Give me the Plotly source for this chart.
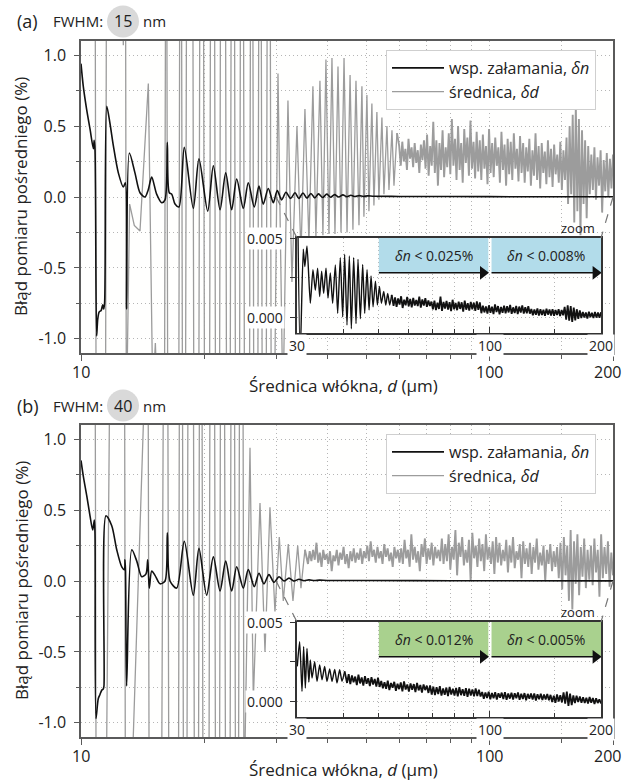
import numpy as np
import plotly.graph_objects as go

W, H = 623, 783
FONT = "Open Sans"
INK = "#222222"
BLACK = "#111111"
GREY = "#9c9c9c"
GRID = "#b5b5b5"
FRAME = "#5a5a5a"

# ======================= panel (a): FWHM 15 nm =======================
# refractive-index error, delta n (%)
dn_a_d = [10.0, 10.13, 10.32, 10.52, 10.72, 10.77, 10.82, 10.92, 10.99, 11.08, 11.2, 11.30, 11.36, 11.42,
          11.56, 11.77, 12.0, 12.34, 12.69, 12.84, 12.93, 13.13, 13.55, 13.94, 14.34, 14.6, 14.89, 15.31,
          15.75, 16.05, 16.26, 16.44, 16.67, 16.98, 17.36, 17.89, 18.82, 19.43, 20.41, 21.07, 21.88, 22.59,
          23.36, 24.03, 24.94, 25.65, 26.53, 27.24, 27.91, 28.71, 29.53, 30.20, 30.95, 31.71, 32.56, 33.37,
          34.1, 34.9, 35.7, 36.5, 37.3, 38.1, 39.0, 39.9, 40.8, 41.7, 42.7, 43.7, 44.7, 45.7, 46.8, 47.9,
          49.0, 50.2, 52.0, 60.0, 80.0, 120.0, 200.0]
dn_a = [0.94, 0.78, 0.62, 0.48, 0.34, 0.40, 0.33, -0.98, -0.86, -0.81, -0.80, -0.76, -0.79, -0.75,
        0.64, 0.52, 0.36, 0.17, 0.07, 0.10, -0.79, 0.31, 0.17, 0.03, 0.00, 0.05, 0.14, 0.02,
        -0.04, -0.02, 0.385, 0.03, 0.02, -0.05, -0.07, 0.35, -0.08, 0.27, -0.10, 0.22, -0.09, 0.17,
        -0.09, 0.127, -0.08, 0.10, -0.07, 0.077, -0.05, 0.06, -0.04, 0.045, -0.02, 0.033, -0.01, 0.03,
        -0.01, 0.028, -0.008, 0.025, -0.006, 0.022, -0.004, 0.02, -0.002, 0.017, 0.0, 0.015, 0.002, 0.012, 0.003, 0.01,
        0.004, 0.008, 0.005, 0.004, 0.003, 0.002, 0.002]

# diameter error, delta d (%); +-1.6 marks excursions beyond the plotted range
dd_a_d = [10.0, 10.83, 10.89, 11.48, 11.54, 12.62, 12.69, 12.75, 12.85, 12.91,
          13.15, 13.5, 13.94, 14.3, 14.61, 14.98, 15.2, 15.45,
          16.00, 16.10, 16.21, 16.30, 17.34, 17.44, 17.61, 17.71, 18.01, 18.12, 18.77, 18.88,
          19.41, 19.53, 19.93, 20.05, 20.62, 20.74, 21.21, 21.33, 21.81, 21.94, 22.56, 22.70,
          23.16, 23.30, 23.73, 23.87, 24.41, 24.55, 24.96, 25.11, 25.82, 25.98, 26.31, 26.46,
          27.06, 27.22, 27.58, 27.75, 28.37, 28.54, 29.02, 29.19, 29.7,
          30.32, 31.18, 32.07, 32.80, 33.74, 34.51, 35.29, 36.09, 36.91, 37.54, 38.40, 39.05, 39.72,
          40.40, 41.09, 41.79, 42.51, 43.24, 43.98, 44.73, 45.50, 46.24, 47.04, 47.84, 48.64, 49.19,
          50.03, 50.60, 51.45, 52.04, 52.92, 53.52, 54.44, 55.06, 56.00, 56.64, 57.61, 58.26, 59.25]
dd_a = [1.6, 1.6, -1.6, -1.6, 1.6, 1.6, 1.07, 1.6, 1.6, -1.6,
        -0.05, -0.2, -0.24, 0.3, 0.80, -1.4, -1.03, -1.6,
        -1.6, 1.6, 1.6, -1.6, -1.6, 1.6, 1.6, -1.6, -1.6, 1.6, 1.6, -1.6,
        -1.6, 1.6, 1.6, -1.6, -1.6, 1.6, 1.6, -1.6, -1.6, 1.6, 1.6, -1.6,
        -1.6, 1.6, 1.6, -1.6, -1.6, 1.6, 1.6, -1.6, -1.6, 1.6, 1.6, -1.6,
        -1.6, 1.6, 1.6, -1.6, -1.6, 1.6, 1.6, -1.6, -1.6,
        0.87, -1.5, 0.68, -0.6, 0.50, -0.4, 0.62, -0.32, 0.78, -0.28, 0.82, -0.27, 0.97,
        -0.26, 0.98, -0.26, 0.92, -0.25, 0.98, -0.25, 0.86, -0.23, 0.82, -0.2, 0.78, -0.14,
        0.72, -0.1, 0.66, -0.06, 0.6, -0.02, 0.56, 0.02, 0.5, 0.05, 0.47, 0.08, 0.45]
# dense part of delta d, read at even log steps from 60 to 200 um
dd_a_dense_from = 60.0
dd_a_dense = [0.36, 0.22, 0.39, 0.25, 0.34, 0.19, 0.41, 0.27, 0.35, 0.21, 0.38, 0.24, 0.33, 0.17, 0.37, 0.26, 0.40,
              0.20, 0.44, 0.15, 0.36, 0.22, 0.53, 0.17, 0.40, 0.08, 0.38, 0.19, 0.47, 0.14, 0.35, 0.21,
              0.45, 0.16, 0.55, 0.22, 0.41, 0.12, 0.50, 0.19, 0.38, 0.10, 0.48, 0.24, 0.42, 0.15, 0.54, 0.20, 0.39, 0.13, 0.46,
              0.18, 0.40, 0.12, 0.44, 0.20, 0.36, 0.09, 0.48, 0.17, 0.38, 0.14, 0.42, 0.22, 0.35, 0.10, 0.46, 0.19, 0.37,
              0.08, 0.41, 0.16, 0.39, 0.12, 0.45, 0.20, 0.34, 0.11, 0.43, 0.17, 0.38,
              0.10, 0.35, 0.18, 0.41, 0.08, 0.33, 0.15, 0.45, 0.12, 0.36, 0.06, 0.38, 0.17, 0.32, 0.09, 0.40, 0.14, 0.34,
              0.07, 0.37, 0.16, 0.30, 0.10, 0.39, 0.05, 0.33,
              0.12, 0.42, -0.05, 0.50, 0.02, 0.58, -0.18, 0.64, -0.10, 0.55, -0.27, 0.47, -0.05, 0.40, -0.15, 0.36, 0.02,
              0.30, 0.05, 0.35, -0.02, 0.28, 0.08, 0.33, -0.11, 0.26, 0.04, 0.31, 0.00, 0.27, 0.06, 0.30]

# zoomed delta n, 30-200 um (units of 0.001 %)
zn_a_d = [30.05, 30.6, 31.2, 31.5, 31.93, 32.60, 33.14, 33.63, 34.12, 34.56, 34.99, 35.43, 35.95, 36.40,
          36.93, 37.47, 38.11, 38.67, 39.31, 39.90, 40.39, 40.98, 41.59, 42.11, 42.73, 43.36, 43.90, 44.55,
          45.20, 45.77, 46.45, 47.04, 47.63, 48.23, 48.94, 49.55, 50.18, 50.80, 51.55, 52.19, 52.84, 53.50, 54.17]
zn_a = [9.0, -2.5, 4.3, 3.2, 4.5, 0.88, 3.0, 1.7, 3.1, 1.3, 2.9, 1.5, 3.1, 1.2,
        2.8, 0.88, 3.3, 0.24, 3.76, 0.02, 3.97, -0.5, 3.86, -0.73, 3.76, -0.41, 3.65, -0.1,
        3.33, 0.24, 3.0, 0.45, 2.6, 0.66, 2.27, 0.77, 1.94, 0.88, 1.62, 0.77, 1.5, 0.77, 1.41]
zn_a_dense_from = 54.8
zn_a_dense = [0.72, 1.25, 0.65, 1.18, 0.80, 1.32, 0.58, 1.10, 0.75, 1.28, 0.68, 1.15, 0.62, 1.22, 0.74, 1.08,
              0.70, 1.30, 0.60, 1.12, 0.73, 1.20, 0.66, 1.05, 0.70,
              0.98, 0.50, 1.05, 0.45, 0.92, 0.52, 1.30, 0.40, 0.96, 0.55, 1.02, 0.48, 0.95, 0.38, 1.10, 0.50,
              0.90, 0.44, 0.98, 0.52, 0.94, 0.35, 1.04, 0.47, 0.88, 0.42, 0.97, 0.50, 0.92, 0.40, 0.99, 0.46, 0.93,
              0.25, 0.72, 0.30, 0.68, 0.22, 0.75, 0.28, 0.66, 0.20, 0.80, 0.32, 0.70, 0.18, 0.64, 0.27, 0.73,
              0.24, 0.69, 0.30, 0.77, 0.21, 0.62, 0.26, 0.71, 0.19, 0.67, 0.29, 0.74, 0.23, 0.63, 0.25, 0.70, 0.22,
              0.52, 0.12, 0.48, 0.15, 0.55, 0.10, 0.50, 0.14, 0.47, 0.08, 0.53, 0.16, 0.49, 0.11, 0.51, 0.09,
              0.46, 0.13, 0.50, 0.07, 0.45, 0.12,
              0.65, -0.15, 0.75, -0.22, 0.70, -0.30, 0.60, -0.20, 0.50, -0.10, 0.42,
              -0.05, 0.32, -0.02, 0.30, -0.08, 0.35, 0.00, 0.28, -0.06, 0.33, -0.03, 0.29, -0.04, 0.31]

# ======================= panel (b): FWHM 40 nm =======================
dn_b_d = [10.0, 10.13, 10.33, 10.52, 10.68, 10.78, 10.82, 10.88, 11.02, 11.13, 11.24, 11.34, 11.38,
          11.51, 11.89, 12.23, 12.58, 12.77, 12.81, 12.85, 12.93, 13.31, 13.69, 14.08, 14.42, 14.56, 14.69,
          14.89, 15.17, 15.61, 16.05, 16.26, 16.51, 17.14, 17.89, 18.82, 19.43, 20.29, 21.07, 21.88, 22.59,
          23.36, 24.03, 24.94, 25.65, 26.53, 27.24, 28.02, 28.82, 29.65, 30.49, 31.36, 32.26, 33.18, 34.12,
          35.1, 36.1, 37.2, 38.3, 40.0, 50.0, 80.0, 200.0]
dn_b = [0.85, 0.74, 0.60, 0.46, 0.36, 0.43, 0.33, -0.97, -0.83, -0.80, -0.77, -0.76, -0.74,
        0.46, 0.39, 0.22, 0.10, 0.08, 0.15, 0.07, -0.74, 0.22, 0.14, 0.03, 0.05, 0.15, -0.05,
        0.07, 0.04, -0.02, 0.0, 0.34, 0.0, -0.05, 0.28, -0.10, 0.23, -0.10, 0.17, -0.07, 0.14,
        -0.07, 0.10, -0.05, 0.08, -0.04, 0.055, -0.02, 0.045, -0.01, 0.03, 0.0, 0.02, 0.0, 0.012,
        0.002, 0.008, 0.003, 0.006, 0.004, 0.003, 0.002, 0.001]

dd_b_d = [10.0, 10.83, 10.89, 11.52, 11.77, 12.78, 12.84, 13.25, 14.39, 14.59, 14.68,
          15.74, 15.91, 16.30, 16.40, 17.31, 17.41, 17.70, 17.81, 18.15, 18.27, 18.83, 18.94,
          19.37, 19.49, 19.76, 19.88, 20.55, 20.68, 21.21, 21.33, 21.81, 21.94, 22.43, 22.57,
          23.14, 23.28, 23.73, 23.87, 24.27, 24.42, 24.89, 25.04,
          25.90, 26.39, 27.40, 28.18, 28.98, 29.81, 30.54, 31.24, 32.13, 32.99, 33.88, 34.51, 35.29]
dd_b = [1.6, 1.6, -1.6, -1.6, 1.6, 1.6, -1.6, -1.6, 1.6, 1.6, -1.6,
        -1.6, 1.6, 1.6, -1.6, -1.6, 1.6, 1.6, -1.6, -1.6, 1.6, 1.6, -1.6,
        -1.6, 1.6, 1.6, -1.6, -1.6, 1.6, 1.6, -1.6, -1.6, 1.6, 1.6, -1.6,
        -1.6, 1.6, 1.6, -1.6, -1.6, 1.6, 1.6, -1.6,
        0.94, -0.84, 0.55, -0.5, 0.52, -0.22, 0.31, -0.14, 0.26, -0.14, 0.25, -0.05, 0.22]
dd_b_dense_from = 35.9
dd_b_dense = [0.12, 0.21, 0.14, 0.22, 0.15, 0.27, 0.13, 0.20, 0.10, 0.22, 0.15, 0.19, 0.12, 0.21, 0.07,
              0.18, 0.14, 0.22, 0.11, 0.20, 0.15, 0.24, 0.12, 0.19, 0.09, 0.21, 0.14, 0.23, 0.13, 0.20,
              0.15, 0.23, 0.12, 0.21, 0.16, 0.25, 0.14, 0.28, 0.17, 0.22, 0.13, 0.24, 0.16, 0.21, 0.12,
              0.26, 0.17, 0.23, 0.14, 0.20, 0.10, 0.24, 0.16, 0.22, 0.13,
              0.23, 0.12, 0.29, 0.16, 0.22, 0.10, 0.33, 0.15, 0.24, 0.13, 0.21, 0.07, 0.26, 0.17, 0.30,
              0.12, 0.23, 0.15, 0.27, 0.11, 0.24, 0.16, 0.22, 0.14,
              0.30, 0.12, 0.26, 0.14, 0.33, 0.08, 0.24, 0.15, 0.36, 0.04, 0.27, 0.17, 0.31, 0.11, 0.22,
              0.13, 0.29, 0.00, 0.34, 0.16, 0.25, 0.10, 0.30, 0.14, 0.26, 0.07, 0.33, 0.15, 0.24, 0.12,
              0.28, 0.05, 0.31, 0.13,
              0.27, 0.11, 0.22, 0.14, 0.29, 0.06, 0.25, 0.13, 0.31, 0.09, 0.21, 0.15, 0.26, 0.02, 0.28,
              0.12, 0.23, 0.10, 0.27, 0.05, 0.24, 0.13, 0.30, 0.08, 0.20, 0.11, 0.25, 0.00, 0.22, 0.12,
              0.26, 0.07, 0.21, 0.10, 0.24,
              0.02, 0.27, -0.06, 0.31, 0.04, 0.25, -0.14, 0.36, -0.20, 0.28, -0.02, 0.33, -0.10, 0.24,
              0.03, 0.30, -0.05, 0.22, 0.01,
              0.25, -0.03, 0.30, 0.06, 0.22, -0.11, 0.33, 0.02, 0.24, 0.05, 0.28, -0.04, 0.20, 0.04]

zn_b_d = [30.05, 30.5, 30.95, 31.27, 31.6, 31.93, 32.3, 32.6, 32.95, 33.5, 33.99, 34.56, 35.07, 35.65,
          36.18, 36.79, 37.33, 37.96, 38.51, 39.15, 39.73, 40.39]
zn_b = [2.2, 3.75, 0.62, 3.44, 0.83, 3.33, 1.2, 2.6, 1.46, 2.5, 1.25, 2.29, 1.35, 2.19,
        1.25, 2.04, 1.25, 2.0, 1.15, 1.98, 1.25, 1.88]
zn_b_dense_from = 41.0
zn_b_dense = [1.15, 1.70, 1.08, 1.62, 1.20, 1.55, 1.02, 1.68, 1.12, 1.50, 0.98, 1.58, 1.10, 1.45, 0.95,
              1.52, 1.05, 1.40, 0.92, 1.48, 0.90,
              1.28, 0.82, 1.20, 0.78, 1.30, 0.70, 1.15, 0.85, 1.22, 0.66, 1.10, 0.76, 1.18, 0.62, 1.25,
              0.74, 1.05, 0.60, 1.12, 0.72, 1.08, 0.58, 1.15, 0.68, 1.02, 0.55, 1.06, 0.70, 0.98, 0.52, 1.00,
              0.42, 0.92, 0.38, 0.88, 0.45, 0.95, 0.35, 0.80, 0.40, 0.86, 0.32, 0.90, 0.42, 0.78, 0.36,
              0.84, 0.30, 0.88, 0.38, 0.76, 0.34, 0.82, 0.28, 0.79, 0.36, 0.74, 0.30, 0.80, 0.33, 0.72, 0.30,
              0.58, 0.15, 0.55, 0.20, 0.60, 0.12, 0.52, 0.18, 0.56, 0.10, 0.50, 0.22, 0.54, 0.14, 0.57,
              0.08, 0.48, 0.16, 0.53, 0.11, 0.50, 0.19, 0.55, 0.09, 0.47, 0.13, 0.51, 0.06, 0.46, 0.15,
              0.49, 0.10, 0.48, 0.04, 0.44, 0.12, 0.47, 0.07, 0.42, 0.10, 0.45, 0.05,
              0.40, -0.05, 0.35, -0.10, 0.42, -0.02, 0.38, -0.08, 0.55, -0.15, 0.60, -0.30, 0.48, -0.25,
              0.36, -0.12, 0.34, -0.06, 0.30, -0.10,
              0.25, -0.12, 0.22, -0.15, 0.26, -0.10, 0.20, -0.18, 0.18, -0.12, 0.12, -0.14]

# accuracy zones shown in the zoomed view
zone_edges = [50, 100, 200]
zone_limits_a = ["0.025%", "0.008%"]
zone_limits_b = ["0.012%", "0.005%"]
zone_band = [0.0028, 0.005]          # vertical extent of the zone boxes (%)

X_RANGE = [10, 200]
Y_RANGE = [-1.1, 1.1]
ZOOM_X = [30, 200]
ZOOM_Y = [-0.001, 0.005]
X_TICKS = [10, 100, 200]


def fx(p):
    return p / W


def fy(p):
    return 1 - p / H


MAIN_DX = [fx(81), fx(613)]
INSET_DX = [fx(297), fx(601)]

panels = [
    dict(tag="(a)", fwhm="15", top=41, bot=353, itop=238, ibot=333,
         dn_d=dn_a_d, dn=dn_a, dd_d=dd_a_d, dd=dd_a, dd_from=dd_a_dense_from, dd_dense=dd_a_dense,
         zn_d=zn_a_d, zn=zn_a, zn_from=zn_a_dense_from, zn_dense=zn_a_dense,
         limits=zone_limits_a, zone_color="#b2dcea", legend="legend", ax="", iax="3"),
    dict(tag="(b)", fwhm="40", top=425, bot=737, itop=622, ibot=717,
         dn_d=dn_b_d, dn=dn_b, dd_d=dd_b_d, dd=dd_b, dd_from=dd_b_dense_from, dd_dense=dd_b_dense,
         zn_d=zn_b_d, zn=zn_b, zn_from=zn_b_dense_from, zn_dense=zn_b_dense,
         limits=zone_limits_b, zone_color="#a9d18e", legend="legend2", ax="2", iax="4"),
]

fig = go.Figure()
layout = dict(width=W, height=H, margin=dict(l=0, r=0, t=0, b=0),
              paper_bgcolor="#ffffff", plot_bgcolor="#fffffe",
              font=dict(family=FONT, color=INK), showlegend=True)
annotations = []
shapes = []

dash_grid = dict(showgrid=True, gridcolor=GRID, griddash="1px,3px", gridwidth=1)


def note(x, y, text, size, xanchor="center", yanchor="middle", **kw):
    d = dict(x=x, y=y, xref="paper", yref="paper", text=text, showarrow=False,
             xanchor=xanchor, yanchor=yanchor, font=dict(size=size, color=INK))
    d.update(kw)
    return d


for p in panels:
    xm, ym = "x" + p["ax"], "y" + p["ax"]
    xi, yi = "x" + p["iax"], "y" + p["iax"]
    ydom = [fy(p["bot"]), fy(p["top"])]
    iydom = [fy(p["ibot"]), fy(p["itop"])]

    # ---------- main curves ----------
    fig.add_trace(go.Scatter(x=p["dd_d"], y=p["dd"], mode="lines", name="średnica, <i>δd</i>",
                             line=dict(color=GREY, width=1.3), xaxis=xm, yaxis=ym,
                             legend=p["legend"], legendrank=2, hoverinfo="skip"))
    # densely oscillating tail of delta d (continues the curve above)
    dense_x = [p["dd_d"][-1]] + list(np.geomspace(p["dd_from"], X_RANGE[1], len(p["dd_dense"])))
    dense_y = [p["dd"][-1]] + list(p["dd_dense"])
    fig.add_trace(go.Scatter(x=dense_x, y=dense_y, mode="lines", line=dict(color=GREY, width=1.9),
                             xaxis=xm, yaxis=ym, showlegend=False, hoverinfo="skip"))
    fig.add_trace(go.Scatter(x=p["dn_d"], y=p["dn"], mode="lines", name="wsp. załamania, <i>δn</i>",
                             line=dict(color=BLACK, width=1.6, shape="spline", smoothing=0.8),
                             xaxis=xm, yaxis=ym, legend=p["legend"], legendrank=1, hoverinfo="skip"))

    # ---------- zoomed view: zone boxes ----------
    for k in range(len(zone_edges) - 1):
        x0 = zone_edges[k] * (1.01 if k > 0 else 1.0)
        x1 = zone_edges[k + 1] / (1.01 if k + 1 < len(zone_edges) - 1 else 1.0)
        y0, y1 = zone_band
        fig.add_trace(go.Scatter(x=[x0, x1, x1, x0, x0], y=[y0, y0, y1, y1, y0], mode="lines",
                                 fill="toself", fillcolor=p["zone_color"], line=dict(width=0),
                                 xaxis=xi, yaxis=yi, showlegend=False, hoverinfo="skip"))
        fig.add_trace(go.Scatter(x=[x0, x1 / 1.03], y=[y0, y0], mode="lines",
                                 line=dict(color=BLACK, width=1.5),
                                 xaxis=xi, yaxis=yi, showlegend=False, hoverinfo="skip"))
        fig.add_trace(go.Scatter(x=[x1 / 1.034], y=[y0], mode="markers",
                                 marker=dict(symbol="triangle-right", size=12, color=BLACK),
                                 xaxis=xi, yaxis=yi, showlegend=False, hoverinfo="skip"))
        annotations.append(dict(x=np.log10(np.sqrt(x0 * x1)), y=(y0 + y1) / 2, xref=xi, yref=yi,
                                text="<i>δn</i> &lt; " + p["limits"][k], showarrow=False,
                                xanchor="center", yanchor="middle",
                                font=dict(size=14, color=INK)))

    # ---------- zoomed view: delta n ----------
    fig.add_trace(go.Scatter(x=p["zn_d"], y=[v * 1e-3 for v in p["zn"]], mode="lines",
                             line=dict(color=BLACK, width=1.4, shape="spline", smoothing=0.6),
                             xaxis=xi, yaxis=yi, showlegend=False, hoverinfo="skip"))
    zn_x = [p["zn_d"][-1]] + list(np.geomspace(p["zn_from"], ZOOM_X[1], len(p["zn_dense"])))
    zn_y = [v * 1e-3 for v in [p["zn"][-1]] + list(p["zn_dense"])]
    fig.add_trace(go.Scatter(x=zn_x, y=zn_y, mode="lines", line=dict(color=BLACK, width=1.8),
                             xaxis=xi, yaxis=yi, showlegend=False, hoverinfo="skip"))

    # ---------- axes ----------
    layout["xaxis" + p["ax"]] = dict(
        type="log", range=[np.log10(X_RANGE[0]), np.log10(X_RANGE[1])], domain=MAIN_DX, anchor=ym,
        tickvals=X_TICKS, ticks="outside", ticklen=6, showticklabels=False,
        tickwidth=1.2, tickcolor=FRAME, showline=True, mirror=True, linecolor=FRAME, linewidth=1.5,
        minor=dict(tickvals=[20, 30, 40, 50, 60, 70, 80, 90, 150], ticks="outside", ticklen=4,
                   tickcolor=FRAME, **dash_grid),
        zeroline=False, **dash_grid)
    layout["yaxis" + p["ax"]] = dict(
        range=Y_RANGE, domain=ydom, anchor=xm,
        tickvals=[-1, -0.5, 0, 0.5, 1], ticktext=["-1.0", "-0.5", "0.0", "0.5", "1.0"],
        ticks="outside", ticklen=5, tickwidth=1.2, tickcolor=FRAME,
        showline=True, mirror=True, linecolor=FRAME, linewidth=1.5,
        minor=dict(tickvals=[-0.75, -0.25, 0.25, 0.75], ticks="outside", ticklen=3,
                   tickcolor=FRAME, **dash_grid),
        tickfont=dict(size=16, color=INK), ticklabelstandoff=5, zeroline=False, **dash_grid)
    layout["xaxis" + p["iax"]] = dict(
        type="log", range=[np.log10(ZOOM_X[0]), np.log10(ZOOM_X[1])], domain=INSET_DX, anchor=yi,
        tickvals=[30, 100, 200], ticks="inside", ticklen=6, tickcolor="#333", showticklabels=False,
        showline=True, mirror=True, linecolor="#333", linewidth=1.5,
        minor=dict(tickvals=[40, 50, 60, 70, 80, 90, 150], ticks="inside", ticklen=4,
                   tickcolor="#333", **dash_grid),
        zeroline=False, **dash_grid)
    layout["yaxis" + p["iax"]] = dict(
        range=ZOOM_Y, domain=iydom, anchor=xi, tickvals=[0, 0.0025, 0.005], ticks="outside",
        ticklen=5, tickcolor="#333", showticklabels=False,
        showline=True, mirror=True, linecolor="#333", linewidth=1.5, zeroline=False, **dash_grid)

    # main x tick labels (the last one kept inside the page edge)
    for val in X_TICKS:
        fxv = MAIN_DX[0] + (np.log10(val) - np.log10(X_RANGE[0])) / \
            (np.log10(X_RANGE[1]) - np.log10(X_RANGE[0])) * (MAIN_DX[1] - MAIN_DX[0])
        if val == X_RANGE[1]:
            annotations.append(note(1.0, fy(p["bot"] + 19), str(val), 16, xanchor="right"))
        else:
            annotations.append(note(fxv, fy(p["bot"] + 19), str(val), 16))

    # zoomed-view tick labels on white patches
    for val in [30, 100, 200]:
        annotations.append(dict(x=np.log10(val), y=0, xref=xi, yref=yi + " domain", yanchor="top",
                                xanchor="center", yshift=-1, text=str(val), showarrow=False,
                                bgcolor="#ffffff", borderpad=1, font=dict(size=14, color=INK)))
    for val, lab in [(0.005, "0.005"), (0.0, "0.000")]:
        annotations.append(dict(x=fx(285), y=val, xref="paper", yref=yi, xanchor="right",
                                yanchor="middle", text=lab, showarrow=False, bgcolor="#ffffff",
                                borderpad=1, font=dict(size=14, color=INK)))
    annotations.append(note(fx(597), iydom[1], "zoom", 13, xanchor="right", yanchor="bottom",
                            yshift=-1))

    # dashed guides from the zoom window on the main axes to the inset corners
    def main_paper(d, v):
        fxv = MAIN_DX[0] + (np.log10(d) - np.log10(X_RANGE[0])) / \
            (np.log10(X_RANGE[1]) - np.log10(X_RANGE[0])) * (MAIN_DX[1] - MAIN_DX[0])
        fyv = ydom[0] + (v - Y_RANGE[0]) / (Y_RANGE[1] - Y_RANGE[0]) * (ydom[1] - ydom[0])
        return fxv, fyv
    for d_end, corner_x in [(ZOOM_X[0], INSET_DX[0]), (ZOOM_X[1], INSET_DX[1])]:
        sx, sy = main_paper(d_end, 0.0)
        shapes.append(dict(type="line", xref="paper", yref="paper", x0=sx, y0=sy,
                           x1=corner_x, y1=iydom[1], line=dict(color="#777", width=1.2, dash="dash")))

    # panel heading: "(a) FWHM: (15) nm"
    cy = (p["top"] - 41) + 21.5
    shapes.append(dict(type="circle", xref="paper", yref="paper", x0=fx(107), x1=fx(139),
                       y0=fy(cy + 16), y1=fy(cy - 16), fillcolor="#d9d9d9", line=dict(width=0),
                       layer="below"))
    annotations += [
        note(fx(15), fy(cy), p["tag"], 18, xanchor="left"),
        note(fx(51), fy(cy), "FWHM:", 15, xanchor="left"),
        note(fx(123), fy(cy), p["fwhm"], 16),
        note(fx(141), fy(cy), "nm", 15, xanchor="left"),
        note(fx(343), fy(p["bot"] + 32), "Średnica włókna, <i>d</i> (μm)", 17),
        note(fx(21), fy((p["top"] + p["bot"]) / 2), "Błąd pomiaru pośredniego (%)", 17,
             textangle=-90),
    ]

    layout[p["legend"]] = dict(x=fx(386), y=fy(p["top"] + 9), xanchor="left", yanchor="top",
                               bgcolor="#ffffff", bordercolor="#cfcfcf", borderwidth=1,
                               font=dict(size=16, color=INK), itemwidth=52, tracegroupgap=0,
                               traceorder="normal")

layout["annotations"] = annotations
layout["shapes"] = shapes
fig.update_layout(**layout)
fig.write_html("out.html")
